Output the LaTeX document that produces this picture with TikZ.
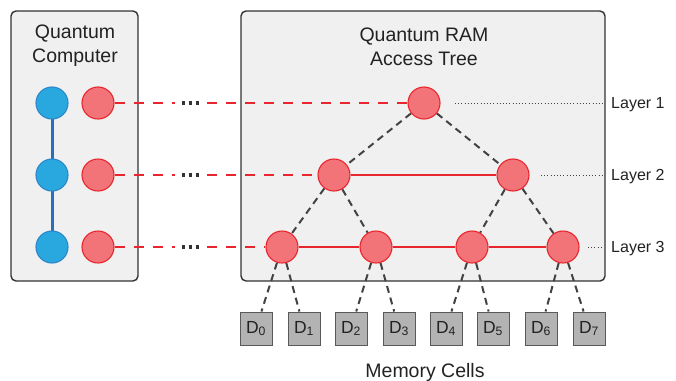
\documentclass[tikz,border=0pt]{standalone}
\usepackage{fontspec}
\setmainfont{Liberation Sans}
\definecolor{redfill}{HTML}{F27479}
\definecolor{redline}{HTML}{E8262D}
\definecolor{bluefill}{HTML}{29A8E0}
\definecolor{blueborder}{HTML}{2E86C8}
\definecolor{blueline}{HTML}{2A6FBF}
\definecolor{panelfill}{HTML}{F0F0F0}
\definecolor{panelline}{HTML}{333333}
\definecolor{cellfill}{HTML}{B3B3B3}
\definecolor{cellline}{HTML}{595959}
\definecolor{treeline}{HTML}{424242}
\definecolor{txt}{HTML}{222222}
\pgfdeclarelayer{bgpanel}
\pgfdeclarelayer{bglines}
\pgfsetlayers{bgpanel,bglines,main}
\begin{document}
\begin{tikzpicture}[x=1pt,y=-1pt,
  panel/.style={draw=panelline,fill=panelfill,line width=1.4pt,rounded corners=5pt},
  qred/.style={circle,minimum size=32pt,inner sep=0pt,fill=redfill,draw=redline,line width=1.1pt},
  qblue/.style={circle,minimum size=32pt,inner sep=0pt,fill=bluefill,draw=blueborder,line width=1.1pt},
  cell/.style={rectangle,minimum width=32pt,minimum height=33pt,inner sep=0pt,fill=cellfill,draw=cellline,line width=1pt,font=\fontsize{17.5}{20}\selectfont,text=txt},
  title/.style={align=center,inner sep=0pt,text=txt,font=\fontsize{19.5}{24}\selectfont},
  layerlbl/.style={anchor=base west,inner sep=0pt,text=txt,font=\fontsize{16}{19}\selectfont},
  redlink/.style={draw=redline,line width=2pt,dash pattern=on 10pt off 9pt},
  redsolid/.style={draw=redline,line width=2pt},
  treelink/.style={draw=treeline,line width=2pt,dash pattern=on 7pt off 5pt},
  layerdot/.style={draw=treeline,line width=1pt,dash pattern=on 1pt off 2.2pt},
]
\useasboundingbox (0,0) rectangle (676,380);

% panels
\begin{pgfonlayer}{bgpanel}
\draw[panel] (11,11) rectangle (138,281);
\draw[panel] (241,11) rectangle (605,281);
\end{pgfonlayer}

% titles
\node[title,anchor=north] (tqc) at (75,25) {Quantum\\Computer};
\node[title,anchor=north] (tqr) at (424,28) {Quantum RAM\\Access Tree};
\node[title,anchor=base] (tmc) at (425,377) {Memory Cells};

% quantum computer qubits
\node[qblue] (b1) at (52,103) {};
\node[qblue] (b2) at (52,175) {};
\node[qblue] (b3) at (52,247) {};
\node[qred] (r1) at (98,103) {};
\node[qred] (r2) at (98,175) {};
\node[qred] (r3) at (98,247) {};

% tree nodes
\node[qred] (t1) at (424,103) {};
\node[qred] (t2a) at (334,175) {};
\node[qred] (t2b) at (513,175) {};
\node[qred] (t3a) at (282,247) {};
\node[qred] (t3b) at (376,247) {};
\node[qred] (t3c) at (472,247) {};
\node[qred] (t3d) at (563,247) {};

% memory cells
\node[cell] (d0) at (256,328.5) {D\textsubscript{0}};
\node[cell] (d1) at (304,328.5) {D\textsubscript{1}};
\node[cell] (d2) at (351,328.5) {D\textsubscript{2}};
\node[cell] (d3) at (399,328.5) {D\textsubscript{3}};
\node[cell] (d4) at (446,328.5) {D\textsubscript{4}};
\node[cell] (d5) at (493,328.5) {D\textsubscript{5}};
\node[cell] (d6) at (541,328.5) {D\textsubscript{6}};
\node[cell] (d7) at (589,328.5) {D\textsubscript{7}};

% layer labels
\node[layerlbl] (l1) at (611,108.5) {Layer 1};
\node[layerlbl] (l2) at (611,180.5) {Layer 2};
\node[layerlbl] (l3) at (611,252.5) {Layer 3};
\coordinate (l1s) at (455,103); \coordinate (l1e) at (603,103);
\coordinate (l2s) at (541,175); \coordinate (l2e) at (603,175);
\coordinate (l3s) at (588,247); \coordinate (l3e) at (603,247);

% gap coordinates of the dash-dot links
\coordinate (g1a) at (175,103); \coordinate (g1b) at (207,103);
\coordinate (g2a) at (175,175); \coordinate (g2b) at (207,175);
\coordinate (g3a) at (175,247); \coordinate (g3b) at (207,247);

\begin{pgfonlayer}{bglines}
% blue chain
\draw[blueline,line width=3pt] (b1.center) -- (b2.center) -- (b3.center);
% links from computer to tree
\draw[redlink] (r1.east) -- (g1a);
\draw[redlink] (g1b) -- (t1.west);
\draw[redlink] (r2.east) -- (g2a);
\draw[redlink] (g2b) -- (t2a.west);
\draw[redlink] (r3.east) -- (g3a);
\draw[redlink] (g3b) -- (t3a.west);
% tree edges
\draw[treelink] (t1) -- (t2a);
\draw[treelink] (t1) -- (t2b);
\draw[treelink] (t2a) -- (t3a);
\draw[treelink] (t2a) -- (t3b);
\draw[treelink] (t2b) -- (t3c);
\draw[treelink] (t2b) -- (t3d);
\draw[treelink] (t3a) -- (d0);
\draw[treelink] (t3a) -- (d1);
\draw[treelink] (t3b) -- (d2);
\draw[treelink] (t3b) -- (d3);
\draw[treelink] (t3c) -- (d4);
\draw[treelink] (t3c) -- (d5);
\draw[treelink] (t3d) -- (d6);
\draw[treelink] (t3d) -- (d7);
% same-layer entanglement
\draw[redsolid] (t2a) -- (t2b);
\draw[redsolid] (t3a) -- (t3b) -- (t3c) -- (t3d);
% layer guides
\draw[layerdot] (l1s) -- (l1e);
\draw[layerdot] (l2s) -- (l2e);
\draw[layerdot] (l3s) -- (l3e);
\end{pgfonlayer}

% ellipsis squares
\foreach \yy in {103,175,247}{
  \foreach \xx in {183.5,190.5,197.5}{
    \fill[panelline] (\xx-1.6,\yy-1.6) rectangle (\xx+1.6,\yy+1.6);
  }
}
\end{tikzpicture}
\end{document}
